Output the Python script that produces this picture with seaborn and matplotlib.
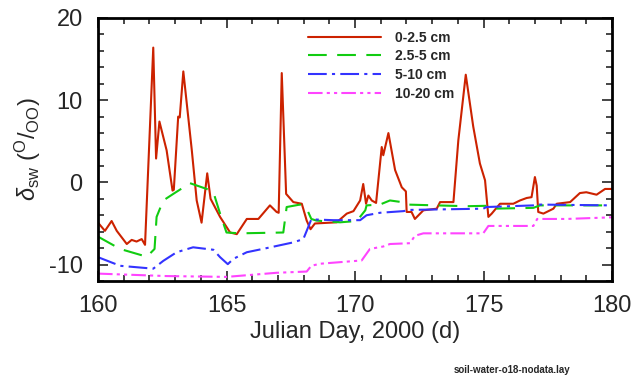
import matplotlib
matplotlib.use("Agg")
import matplotlib.pyplot as plt
import seaborn as sns
import pandas as pd
from matplotlib.ticker import MultipleLocator

# 0-2.5 cm
red_day = [160.0, 160.27, 160.53, 160.73, 161.12, 161.31, 161.5, 161.7, 161.83, 162.15, 162.26,
           162.39, 162.67, 162.9, 162.95, 163.12, 163.18, 163.32, 163.65, 163.84, 164.03, 164.25,
           164.38, 164.75, 165.14, 165.4, 165.79, 166.24, 166.69, 166.95, 167.03, 167.15, 167.32,
           167.6, 167.93, 168.12, 168.27, 168.44, 169.29, 169.68, 169.94, 170.2, 170.32, 170.43,
           170.52, 170.65, 170.82, 171.04, 171.1, 171.3, 171.56, 171.82, 171.98, 172.01, 172.2,
           172.33, 172.66, 173.18, 173.31, 173.83, 174.02, 174.31, 174.6, 174.86, 175.06, 175.19,
           175.32, 175.64, 176.16, 176.42, 176.68, 176.87, 177.0, 177.07, 177.13, 177.33, 177.72,
           177.85, 178.37, 178.75, 179.0, 179.4, 179.73, 180.0]
red_val = [-4.9, -5.9, -4.7, -5.9, -7.5, -7.0, -7.2, -6.9, -7.6, 16.4, 2.9,
           7.4, 3.9, -1.0, -0.9, 8.0, 7.9, 13.5, 3.9, -2.2, -4.9, 1.1,
           -2.0, -4.2, -6.1, -6.3, -4.45, -4.45, -2.8, -3.6, -3.7, 13.3, -1.4,
           -2.4, -2.6, -4.65, -5.7, -5.0, -4.86, -3.8, -3.5, -2.2, -0.2, -2.6,
           -1.6, -2.2, -2.5, 4.3, 3.3, 6.0, 1.5, -0.6, -1.1, -3.6, -3.6,
           -4.45, -3.4, -3.2, -2.4, -2.4, 5.1, 13.1, 6.8, 2.3, 0.25, -4.2,
           -3.8, -2.6, -2.6, -2.2, -1.9, -1.8, 0.65, -0.4, -3.6, -3.8, -3.2,
           -2.6, -2.4, -1.3, -1.2, -1.5, -0.8, -0.8]

# 2.5-5 cm
green_day = [160.0, 160.86, 161.9, 162.2, 162.28, 162.54, 162.93, 163.58, 164.23, 164.49, 164.75,
             165.0, 165.52, 167.21, 167.34, 167.86, 168.12, 168.3, 168.5, 169.42, 170.07, 170.4,
             170.45, 170.97, 171.36, 171.82, 172.0, 174.35, 175.12, 175.38, 176.94, 177.2, 180.0]
green_val = [-6.6, -8.1, -9.05, -8.1, -4.2, -2.2, -1.4, -0.1, -0.8, -1.2, -3.8,
             -6.1, -6.2, -6.1, -3.0, -2.7, -3.2, -4.45, -4.65, -4.86, -4.7, -3.4,
             -2.8, -2.7, -2.2, -2.4, -2.7, -2.9, -2.85, -3.2, -3.1, -2.8, -2.8]

# 5-10 cm
blue_day = [160.0, 160.86, 162.15, 162.54, 163.06, 163.7, 164.49, 164.75, 165.05, 165.27, 165.79,
            166.56, 167.6, 167.99, 168.12, 168.3, 169.16, 170.2, 170.45, 170.97, 171.88, 172.14,
            174.99, 175.12, 176.94, 177.13, 180.0]
blue_val = [-9.1, -10.15, -10.5, -9.55, -8.5, -7.9, -8.2, -9.1, -9.95, -9.3, -8.5,
            -8.0, -7.3, -6.9, -5.9, -4.5, -4.6, -4.6, -4.0, -3.7, -3.5, -3.35,
            -3.2, -3.0, -2.8, -2.7, -2.8]

# 10-20 cm
mag_day = [160.0, 162.67, 165.0, 166.95, 168.12, 168.3, 168.64, 170.26, 170.58, 171.1, 171.36,
           172.14, 172.33, 172.66, 174.99, 175.19, 176.94, 177.09, 178.24, 180.0]
mag_val = [-11.1, -11.4, -11.5, -11.0, -10.85, -10.15, -9.9, -9.5, -8.1, -7.8, -7.5,
           -7.4, -6.5, -6.2, -6.2, -5.3, -5.3, -4.45, -4.45, -4.25]

labels = ["0-2.5 cm", "2.5-5 cm", "5-10 cm", "10-20 cm"]
x_ticks = [160, 165, 170, 175, 180]
y_ticks = [-10, 0, 10, 20]

sns.set_style("ticks")
plt.rcParams['font.family'] = ['Liberation Sans', 'DejaVu Sans']
plt.rcParams['axes.unicode_minus'] = False
plt.rcParams['mathtext.fontset'] = 'custom'
plt.rcParams['mathtext.rm'] = 'Liberation Sans'
plt.rcParams['mathtext.it'] = 'Liberation Sans:italic'

fig = plt.figure(figsize=(6.38, 3.83), dpi=100)
ax = fig.add_axes([98/638, 1 - 281/383, (612-98)/638, (281-18)/383])

series = [
    (red_day, red_val, "#cc2200", (None, None)),
    (green_day, green_val, "#11cc11", (9, 5)),
    (blue_day, blue_val, "#3333ff", (9, 2.5, 1.5, 2.5)),
    (mag_day, mag_val, "#ff44ff", (7, 2, 1.5, 2, 1.5, 2)),
]
for (d, v, c, dash), lab in zip(series, labels):
    df = pd.DataFrame({"day": d, "val": v})
    sns.lineplot(data=df, x="day", y="val", ax=ax, color=c, linewidth=1.5,
                 label=lab, estimator=None, sort=False)
    if dash[0] is not None:
        ax.lines[-1].set_dashes(dash)

ax.set_xlim(160, 180)
ax.set_ylim(-12, 20)
ax.set_xticks(x_ticks)
ax.set_yticks(y_ticks)
ax.xaxis.set_minor_locator(MultipleLocator(1))
ax.yaxis.set_minor_locator(MultipleLocator(2))
ax.tick_params(which='both', direction='in', top=True, right=True, labelsize=17, width=1.2)
ax.tick_params(which='major', length=7)
ax.tick_params(axis='x', which='major', pad=10)
ax.tick_params(axis='y', which='major', pad=11)
ax.tick_params(which='minor', length=4)
for s in ax.spines.values():
    s.set_linewidth(2)
    s.set_color('black')

ax.set_xlabel("Julian Day, 2000 (d)", fontsize=17, labelpad=3)
ax.set_ylabel(r"$\delta_{\rm sw}$ ($^{\rm O}/_{\rm OO}$)", fontsize=17, labelpad=4)

leg = ax.legend(loc='upper left', bbox_to_anchor=(0.385, 1.0), frameon=False,
                handlelength=5.2, labelspacing=0.35, handletextpad=1.0,
                prop={'weight': 'bold', 'size': 10})

fig.text(570/638, 1 - 375/383, "soil-water-o18-nodata.lay", ha='right', va='bottom',
         fontsize=7, fontweight='bold')

fig.savefig("out.png", dpi=100)
